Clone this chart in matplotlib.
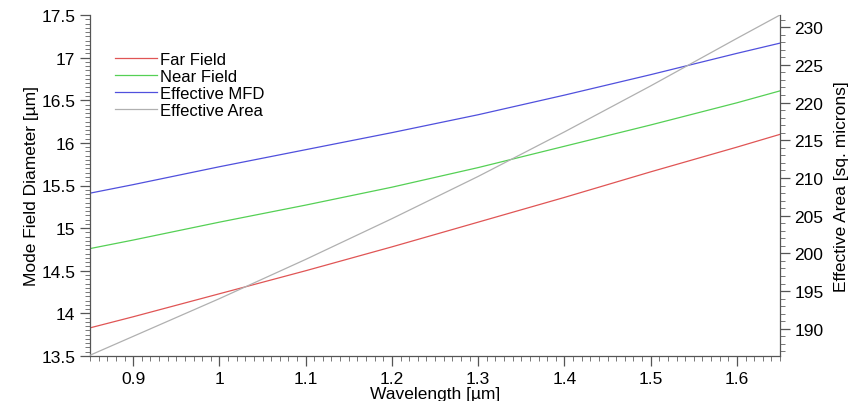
import numpy as np
import matplotlib
matplotlib.use('Agg')
import matplotlib.pyplot as plt
from matplotlib.ticker import MultipleLocator

plt.rcParams['font.family'] = ['Liberation Sans', 'DejaVu Sans']

# values
wavelength = [0.85, 0.9, 1.0, 1.1, 1.2, 1.3, 1.4, 1.5, 1.6, 1.65]
far_field = [13.83, 13.96, 14.23, 14.50, 14.78, 15.07, 15.36, 15.66, 15.95, 16.10]
near_field = [14.76, 14.86, 15.07, 15.27, 15.48, 15.71, 15.96, 16.21, 16.47, 16.61]
eff_mfd = [15.41, 15.51, 15.72, 15.92, 16.12, 16.33, 16.56, 16.80, 17.05, 17.17]
eff_area = [186.5, 189.0, 194.0, 199.2, 204.6, 210.2, 216.1, 222.2, 228.5, 231.6]

fs = 12.5
fig = plt.figure(figsize=(8.5, 4.02), dpi=100)
ax = fig.add_axes([90/850, 45/402, 690/850, 341/402])
ax2 = ax.twinx()

l1, = ax.plot(wavelength, far_field, color='#e05555', lw=0.9, label='Far Field')
l2, = ax.plot(wavelength, near_field, color='#55d055', lw=0.9, label='Near Field')
l3, = ax.plot(wavelength, eff_mfd, color='#5050dd', lw=0.9, label='Effective MFD')
l4, = ax2.plot(wavelength, eff_area, color='#b0b0b0', lw=0.9, label='Effective Area')

ax.set_xlim(0.85, 1.65)
ax.set_ylim(13.5, 17.5)
ax2.set_ylim(186.4, 231.6)

ax.xaxis.set_minor_locator(MultipleLocator(0.01))
ax.yaxis.set_minor_locator(MultipleLocator(0.05))
ax2.yaxis.set_major_locator(MultipleLocator(5))
ax2.yaxis.set_minor_locator(MultipleLocator(1))
ax.set_xticks([0.9, 1.0, 1.1, 1.2, 1.3, 1.4, 1.5, 1.6])
ax.set_xticklabels(['0.9', '1', '1.1', '1.2', '1.3', '1.4', '1.5', '1.6'])
ax.set_yticks([13.5, 14, 14.5, 15, 15.5, 16, 16.5, 17, 17.5])
ax.set_yticklabels(['13.5', '14', '14.5', '15', '15.5', '16', '16.5', '17', '17.5'])

for a in (ax, ax2):
    a.spines['top'].set_visible(False)
    for s in a.spines.values():
        s.set_color('#555555')
        s.set_linewidth(0.9)
    a.tick_params(which='major', length=7, width=0.9, color='#555555', labelsize=fs)
    a.tick_params(which='minor', length=3.5, width=0.7, color='#777777')
ax.spines['right'].set_visible(False)
ax2.spines['left'].set_visible(False)
ax2.spines['bottom'].set_visible(False)

ax.set_xlabel('Wavelength [\u00b5m]', fontsize=fs, labelpad=0)
ax.set_ylabel('Mode Field Diameter [\u00b5m]', fontsize=fs, labelpad=2)
ax2.set_ylabel('Effective Area [sq. microns]', fontsize=fs, labelpad=7)

fig.legend(handles=[l1, l2, l3, l4], loc='upper left',
           bbox_to_anchor=(115/850, (402-53)/402), frameon=False,
           fontsize=12, borderpad=0, borderaxespad=0, labelspacing=0.12,
           handlelength=2.5, handletextpad=0.2)

fig.savefig('out.png', dpi=100)
